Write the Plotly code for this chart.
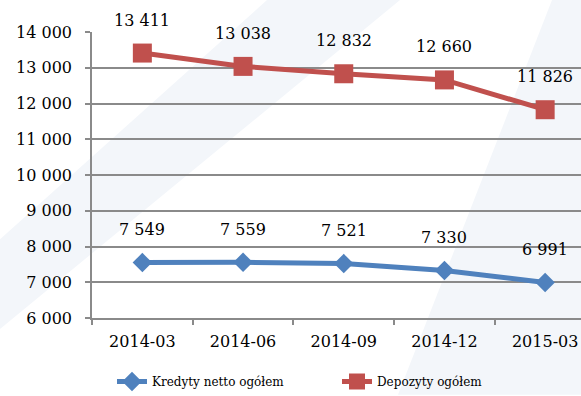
import plotly.graph_objects as go

# Quarterly totals
quarters = ["2014-03", "2014-06", "2014-09", "2014-12", "2015-03"]
kredyty = [7549, 7559, 7521, 7330, 6991]
depozyty = [13411, 13038, 12832, 12660, 11826]
y_ticks = [6000, 7000, 8000, 9000, 10000, 11000, 12000, 13000, 14000]

W, H = 581, 396
ML, MR, MT, MB = 92, 0, 32, 77
PW, PH = W - ML - MR, H - MT - MB

BLUE = "#4F81BD"
RED = "#C0504D"
GRID = "#8a8a8a"
FONT = "DejaVu Serif"


def fmt(v):
    return f"{v:,}".replace(",", " ")


def to_paper(px, py):
    return (px - ML) / PW, (H - MB - py) / PH


def band(points):
    pts = [to_paper(x, y) for x, y in points]
    return "M " + " L ".join(f"{x:.4f},{y:.4f}" for x, y in pts) + " Z"


fig = go.Figure()

fig.add_trace(go.Scatter(
    x=quarters, y=kredyty, name="Kredyty netto ogółem",
    mode="lines+markers",
    line=dict(color=BLUE, width=5),
    marker=dict(symbol="diamond", size=15, color=BLUE),
))
fig.add_trace(go.Scatter(
    x=quarters, y=depozyty, name="Depozyty ogółem",
    mode="lines+markers",
    line=dict(color=RED, width=5),
    marker=dict(symbol="square", size=19, color=RED),
))

annotations = []
for series in (kredyty, depozyty):
    for q, v in zip(quarters, series):
        annotations.append(dict(
            x=q, y=v, xref="x", yref="y", text=fmt(v), showarrow=False,
            yshift=33, font=dict(family=FONT, size=16, color="#000"),
        ))

# faint diagonal background bands
shapes = [
    dict(type="path", xref="paper", yref="paper", layer="below",
         path=band([(0, 240), (267, 0), (400, 0), (0, 330)]),
         fillcolor="rgb(243,246,250)", line=dict(width=0)),
    dict(type="path", xref="paper", yref="paper", layer="below",
         path=band([(398, 396), (552, 0), (581, 0), (581, 396)]),
         fillcolor="rgb(243,246,250)", line=dict(width=0)),
]

fig.update_layout(
    width=W, height=H,
    margin=dict(l=ML, r=MR, t=MT, b=MB),
    paper_bgcolor="white",
    plot_bgcolor="rgba(0,0,0,0)",
    separators=", ",
    font=dict(family=FONT, size=16, color="#000"),
    showlegend=True,
    legend=dict(
        orientation="h", x=(112 - ML) / PW, xanchor="left",
        y=(H - MB - 383) / PH, yanchor="middle",
        font=dict(family=FONT, size=12, color="#000"),
        entrywidth=180, bgcolor="rgba(0,0,0,0)",
    ),
    annotations=annotations,
    shapes=shapes,
)

fig.update_xaxes(
    type="category", range=[-0.5, 4.356],
    showline=True, linecolor=GRID, linewidth=1.5,
    showgrid=False, tickson="boundaries",
    ticks="outside", ticklen=5, tickcolor=GRID, tickwidth=1.5,
    tickfont=dict(family=FONT, size=16, color="#000"),
    ticklabelstandoff=8,
)
fig.update_yaxes(
    range=[6000, 14000], tickvals=y_ticks,
    ticktext=[fmt(v) for v in y_ticks],
    showline=True, linecolor=GRID, linewidth=1.5,
    showgrid=True, gridcolor=GRID, gridwidth=1.5,
    zeroline=False,
    ticks="outside", ticklen=5, tickcolor=GRID, tickwidth=1.5,
    tickfont=dict(family=FONT, size=16, color="#000"),
    ticklabelstandoff=10,
)

fig.write_html("out.html")
